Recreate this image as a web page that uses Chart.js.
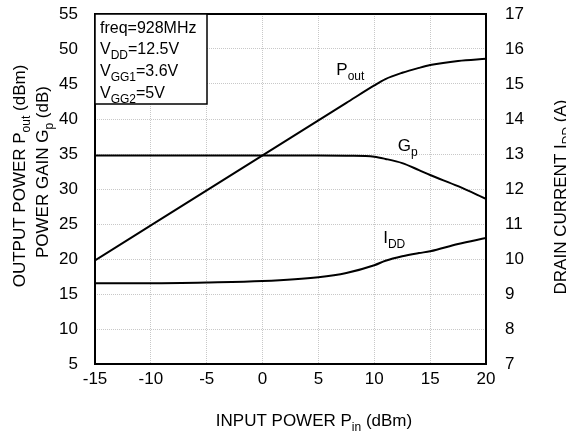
<!DOCTYPE html>
<html>
<head>
<meta charset="utf-8">
<script src="https://cdn.jsdelivr.net/npm/chart.js@4"></script>
<style>
  html, body { margin: 0; padding: 0; background: #fff; }
  #wrap { width: 566px; height: 435px; }
</style>
</head>
<body>
<div id="wrap"><canvas id="chart"></canvas></div>
<script>
// input power (dBm)
const pin  = [-15, -10, -5, 0, 5, 7.5, 10, 11, 12.5, 14, 15, 17.5, 20];
// output power Pout (dBm)
const pout = [19.8, 24.8, 29.8, 34.8, 39.8, 42.3, 44.8, 45.7, 46.6, 47.3, 47.7, 48.3, 48.6];
// power gain Gp (dB)
const gain = [34.8, 34.8, 34.8, 34.8, 34.8, 34.75, 34.6, 34.3, 33.7, 32.7, 32.0, 30.4, 28.6];
// drain current IDD (A)
const idd  = [9.31, 9.31, 9.33, 9.37, 9.48, 9.6, 9.82, 9.95, 10.08, 10.17, 10.22, 10.43, 10.6];

const FONT = '"Liberation Sans", Arial, sans-serif';

function pts(ys) {
    return pin.map((x, i) => ({ x: x, y: ys[i] }));
}

// text with subscripts: parts = [[text, isSub], ...]
function richWidth(ctx, parts, size) {
    let w = 0;
    parts.forEach(p => {
        ctx.font = (p[1] ? Math.round(size * 0.72) : size) + 'px ' + FONT;
        w += ctx.measureText(p[0]).width;
    });
    return w;
}
function drawRich(ctx, parts, x, y, size, align) {
    ctx.save();
    ctx.fillStyle = '#000';
    ctx.textBaseline = 'alphabetic';
    ctx.textAlign = 'left';
    let w = richWidth(ctx, parts, size);
    let cx = align === 'center' ? x - w / 2 : x;
    parts.forEach(p => {
        let s = p[1] ? Math.round(size * 0.72) : size;
        ctx.font = s + 'px ' + FONT;
        ctx.fillText(p[0], cx, p[1] ? y + size * 0.3 : y);
        cx += ctx.measureText(p[0]).width;
    });
    ctx.restore();
}
function drawRichV(ctx, parts, x, y, size) {
    ctx.save();
    ctx.translate(x, y);
    ctx.rotate(-Math.PI / 2);
    drawRich(ctx, parts, 0, 0, size, 'center');
    ctx.restore();
}

const extras = {
    id: 'extras',
    afterDraw(chart) {
        const ctx = chart.ctx;
        const a = chart.chartArea;
        const x = chart.scales.x, y = chart.scales.y, y2 = chart.scales.y2;

        // frame
        ctx.save();
        ctx.strokeStyle = '#000';
        ctx.lineWidth = 2;
        ctx.strokeRect(a.left, a.top, a.right - a.left, a.bottom - a.top);

        // condition box
        ctx.fillStyle = '#fff';
        ctx.lineWidth = 1.5;
        ctx.fillRect(a.left, a.top, 112, 90);
        ctx.strokeRect(a.left, a.top, 112, 90);
        ctx.restore();

        drawRich(ctx, [['freq=928MHz', 0]], a.left + 5, a.top + 19, 16);
        drawRich(ctx, [['V', 0], ['DD', 1], ['=12.5V', 0]], a.left + 5, a.top + 40, 16);
        drawRich(ctx, [['V', 0], ['GG1', 1], ['=3.6V', 0]], a.left + 5, a.top + 62, 16);
        drawRich(ctx, [['V', 0], ['GG2', 1], ['=5V', 0]], a.left + 5, a.top + 84, 16);

        // curve labels
        drawRich(ctx, [['P', 0], ['out', 1]], x.getPixelForValue(6.6), y.getPixelForValue(46.3), 17);
        drawRich(ctx, [['G', 0], ['p', 1]], x.getPixelForValue(12.1), y.getPixelForValue(35.5), 17);
        drawRich(ctx, [['I', 0], ['DD', 1]], x.getPixelForValue(10.8), y2.getPixelForValue(10.45), 17);

        // axis titles
        drawRichV(ctx, [['OUTPUT POWER P', 0], ['out', 1], [' (dBm)', 0]], 25, 176, 17);
        drawRichV(ctx, [['POWER GAIN G', 0], ['p', 1], [' (dB)', 0]], 48, 172, 17);
        drawRichV(ctx, [['DRAIN CURRENT I', 0], ['DD', 1], [' (A)', 0]], 566, 197, 17);
        drawRich(ctx, [['INPUT POWER P', 0], ['in', 1], [' (dBm)', 0]], 314, 426, 17, 'center');
    }
};

const lineStyle = {
    borderColor: '#000',
    borderWidth: 2,
    pointRadius: 0,
    fill: false,
    cubicInterpolationMode: 'monotone'
};

const tickFont = { family: FONT, size: 17 };

const ctx = document.getElementById('chart');
const chart = new Chart(ctx, {
    type: 'line',
    data: {
        datasets: [
            Object.assign({ label: 'Pout', data: pts(pout), yAxisID: 'y' }, lineStyle),
            Object.assign({ label: 'Gp', data: pts(gain), yAxisID: 'y' }, lineStyle),
            Object.assign({ label: 'IDD', data: pts(idd), yAxisID: 'y2' }, lineStyle)
        ]
    },
    options: {
        responsive: true,
        maintainAspectRatio: false,
        animation: false,
        devicePixelRatio: 1,
        layout: { padding: { top: 14, left: 0, right: 0, bottom: 0 } },
        plugins: { legend: { display: false }, tooltip: { enabled: false } },
        scales: {
            x: {
                type: 'linear', min: -15, max: 20,
                afterFit: s => { s.height = 71; s.paddingLeft = 0; s.paddingRight = 0; },
                ticks: { stepSize: 5, padding: 5, color: '#000', font: tickFont },
                grid: { color: '#c8c8c8', drawTicks: false },
                border: { display: false, dash: [1, 1] }
            },
            y: {
                position: 'left', min: 5, max: 55,
                afterFit: s => { s.width = 95; s.paddingTop = 0; s.paddingBottom = 0; },
                ticks: { stepSize: 5, padding: 17, color: '#000', font: tickFont },
                grid: { color: '#c8c8c8', drawTicks: false },
                border: { display: false, dash: [1, 1] }
            },
            y2: {
                position: 'right', min: 7, max: 17,
                afterFit: s => { s.width = 80; s.paddingTop = 0; s.paddingBottom = 0; },
                ticks: { stepSize: 1, padding: 19, color: '#000', font: tickFont },
                grid: { display: false, drawTicks: false },
                border: { display: false }
            }
        }
    },
    plugins: [extras]
});
</script>
</body>
</html>
